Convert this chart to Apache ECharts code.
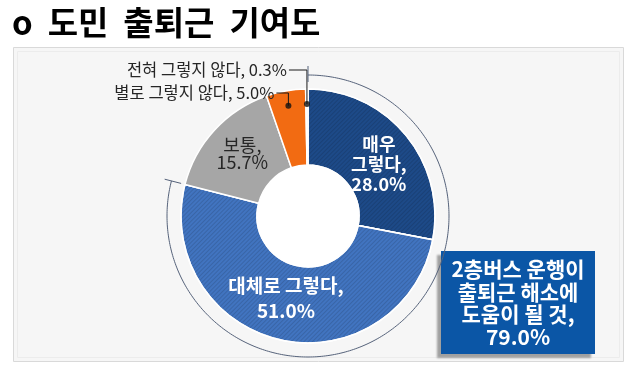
<!DOCTYPE html>
<html><head><meta charset="utf-8">
<script src="https://cdn.jsdelivr.net/npm/echarts@6/dist/echarts.min.js"></script>
<style>html,body{margin:0;padding:0;background:#fff}#c{width:640px;height:375px}</style>
</head><body><div id="c"></div><script>
const titleText = 'o  도민  출퇴근  기여도';
const categories = ['매우 그렇다', '대체로 그렇다', '보통', '별로 그렇지 않다', '전혀 그렇지 않다'];
const labelNames = ['매우\n그렇다,', '대체로 그렇다,', '보통,', '별로 그렇지 않다,', '전혀 그렇지 않다,'];
const values = [28.0, 51.0, 15.7, 5.0, 0.3];
const colors = ['#1d4a88', '#4174c0', '#a6a6a6', '#f26b12', '#f3f3f3'];
const positiveShare = values[0] + values[1];
const calloutLines = ['2층버스 운행이', '출퇴근 해소에', '도움이 될 것,', positiveShare.toFixed(1) + '%'];

const FONT = '"Noto Sans CJK KR", "Noto Sans", sans-serif';
const CENTER = [308, 216];
const total = values.reduce((a, b) => a + b, 0);
const cum = [];
values.reduce((acc, v, i) => { cum[i] = acc + v / 2; return acc + v; }, 0);
const midPct = cum.map(c => c / total * 100);

const hatch = { symbol: 'rect', dashArrayX: [1, 0], dashArrayY: [1, 2], rotation: -Math.PI / 4, color: 'rgba(0,0,0,0.13)' };
const insideStyles = [
  { color: '#fff', fontSize: 18, fontWeight: 'bold', lineHeight: 20, offset: [0, 7] },
  { color: '#fff', fontSize: 19, fontWeight: 'bold', lineHeight: 25, offset: [-2, -8] },
  { color: '#262626', fontSize: 18, fontWeight: 'normal', lineHeight: 17, offset: [2, 0] }
];
const outsideLayout = { 3: { y: 93, gap: 14 }, 4: { y: 70, gap: 20 } };

const mainData = categories.map((name, i) => ({
  name, value: values[i],
  itemStyle: i < 2 ? { color: colors[i], decal: hatch } : { color: colors[i] },
  label: i < 3 ? Object.assign({ show: true, position: 'inside' }, insideStyles[i]) : { show: false }
}));
const guideData = categories.map((name, i) => ({
  name, value: values[i],
  label: { show: i >= 3 },
  labelLine: { show: i >= 3 }
}));

const chart = echarts.init(document.getElementById('c'), null, { renderer: 'canvas' });
chart.setOption({
  animation: false,
  textStyle: { fontFamily: FONT },
  title: {
    text: titleText, left: 7, top: 1,
    textStyle: { fontSize: 33, fontWeight: 'bold', color: '#000', fontFamily: FONT }
  },
  graphic: [
    { type: 'rect', z: -10, shape: { x: 13.5, y: 47.5, width: 610, height: 314 },
      style: { fill: '#f6f6f6', stroke: '#d9d9d9', lineWidth: 1 } },
    { type: 'rect', z: -9, shape: { x: 17.5, y: 51.5, width: 602, height: 306 },
      style: { fill: 'none', stroke: '#ececec', lineWidth: 1 } },
    { type: 'group', left: 441, top: 251, z: 100, children: [
      { type: 'rect', shape: { x: 0, y: 0, width: 154, height: 103 },
        style: { fill: '#0b56a6', shadowColor: 'rgba(0,0,0,0.35)', shadowOffsetX: -4, shadowOffsetY: 4, shadowBlur: 2 } },
      { type: 'text', x: 77, y: 52,
        style: { text: calloutLines.join('\n'), fill: '#fff', font: 'bold 21px ' + FONT,
          align: 'center', verticalAlign: 'middle', lineHeight: 22.5 } }
    ] }
  ],
  polar: { center: CENTER, radius: 150 },
  radiusAxis: { type: 'value', min: 0, max: 150, show: false },
  angleAxis: { type: 'value', min: 0, max: 100, startAngle: 90, clockwise: true, show: false },
  series: [
    { type: 'pie', silent: true, center: CENTER, radius: [0, 51], z: 1,
      label: { show: false }, labelLine: { show: false },
      data: [{ value: 1, itemStyle: { color: '#ffffff' } }] },
    { type: 'pie', center: CENTER, radius: [51, 127], startAngle: 90, clockwise: true,
      avoidLabelOverlap: false, silent: true,
      itemStyle: { borderColor: '#ffffff', borderWidth: 1.5 },
      label: { formatter: p => labelNames[p.dataIndex] + '\n' + p.value.toFixed(1) + '%' },
      labelLine: { show: false },
      data: mainData },
    { type: 'pie', center: CENTER, radius: [0, 112], startAngle: 90, clockwise: true,
      avoidLabelOverlap: false, silent: true, minShowLabelAngle: 0, z: 3,
      itemStyle: { color: 'rgba(0,0,0,0)' },
      label: { position: 'outside', color: '#262626', fontSize: 16.5,
        formatter: p => labelNames[p.dataIndex].replace('\n', ' ') + ' ' + p.value.toFixed(1) + '%' },
      labelLine: { length: 10, length2: 10, lineStyle: { color: '#1a1a1a', width: 1 } },
      labelLayout: function (params) {
        const cfg = outsideLayout[params.dataIndex];
        if (!cfg || !params.labelLinePoints) return {};
        const p0 = params.labelLinePoints[0];
        const x = p0[0] - cfg.gap;
        return {
          x: x, y: cfg.y, align: 'right', verticalAlign: 'middle',
          labelLinePoints: [[p0[0], p0[1]], [p0[0], cfg.y], [x + 2, cfg.y]]
        };
      },
      data: guideData },
    { type: 'scatter', coordinateSystem: 'polar', symbol: 'circle', symbolSize: 6, silent: true, z: 5,
      itemStyle: { color: '#111' },
      data: [3, 4].map(i => [112, midPct[i]]) },
    { type: 'custom', coordinateSystem: 'polar', silent: true, z: 4,
      data: [[0, positiveShare]],
      renderItem: function (params, api) {
        const a0 = api.value(0), a1 = api.value(1);
        const pts = [];
        for (let a = a0; a <= a1 + 1e-9; a += 0.25) pts.push(api.coord([141, a]));
        const s0 = api.coord([134, a0]), e0 = api.coord([150, a0]);
        const s1 = api.coord([131, a1]), e1 = api.coord([148, a1]);
        const st = { stroke: '#55627a', lineWidth: 1, fill: null };
        return { type: 'group', children: [
          { type: 'polyline', shape: { points: pts }, style: st },
          { type: 'line', shape: { x1: s0[0], y1: s0[1], x2: e0[0], y2: e0[1] }, style: st },
          { type: 'line', shape: { x1: s1[0], y1: s1[1], x2: e1[0], y2: e1[1] }, style: st }
        ] };
      } }
  ]
});
</script></body></html>
